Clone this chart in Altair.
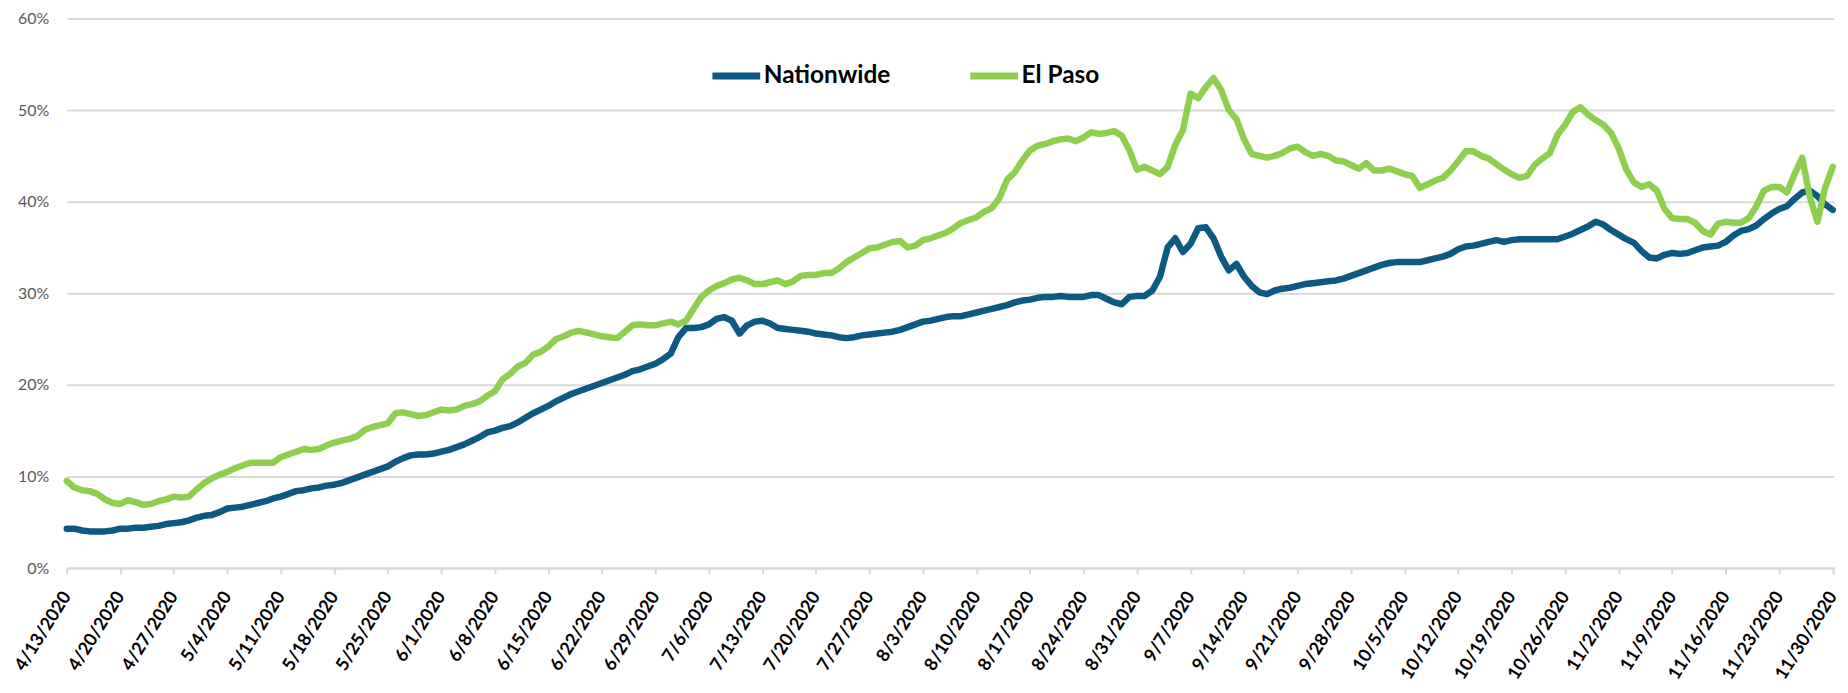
import altair as alt
import pandas as pd

# Daily dates 4/13/2020 .. 11/30/2020
dates = pd.date_range("2020-04-13", "2020-11-30", freq="D").strftime("%Y-%m-%d").tolist()

series_names = ["Nationwide", "El Paso"]
series_colors = ["#0C5A83", "#8FCF4F"]

# Nationwide (%), one value per day
nationwide = [
    4.3, 4.3, 4.1, 4.0, 4.0, 4.0, 4.1, 4.3, 4.3, 4.4, 4.4, 4.5, 4.6, 4.8, 4.9, 5.0, 5.2, 5.5, 5.7, 5.8,
    6.1, 6.5, 6.6, 6.7, 6.9, 7.1, 7.3, 7.6, 7.8, 8.1, 8.4, 8.5, 8.7, 8.8, 9.0, 9.1, 9.3,
    9.6, 9.9, 10.2, 10.5, 10.8, 11.1, 11.6, 12.0, 12.3, 12.4, 12.4, 12.5, 12.7, 12.9, 13.2, 13.5, 13.9,
    14.3, 14.8, 15.0, 15.3, 15.5, 15.9, 16.4, 16.9, 17.3, 17.7, 18.2, 18.6, 19.0, 19.3, 19.6, 19.9,
    20.2, 20.5, 20.8, 21.1, 21.5,
    21.7, 22.0, 22.3, 22.8, 23.4, 25.2, 26.2, 26.2, 26.3, 26.6, 27.2, 27.4, 27.0, 25.6, 26.5, 26.9,
    27.0, 26.7, 26.2, 26.1, 26.0, 25.9, 25.8, 25.6, 25.5, 25.4, 25.2, 25.1, 25.2, 25.4, 25.5, 25.6,
    25.7, 25.8, 26.0, 26.3, 26.6, 26.9,
    27.0, 27.2, 27.4, 27.5, 27.5, 27.7, 27.9, 28.1, 28.3, 28.5, 28.7, 29.0, 29.2, 29.3, 29.5,
    29.6, 29.6, 29.7, 29.6, 29.6, 29.6, 29.8, 29.8, 29.4, 29.0, 28.8, 29.6, 29.7, 29.7, 30.3,
    31.8, 35.0, 36.0, 34.5, 35.4, 37.1, 37.2, 36.0,
    34.0, 32.5, 33.2, 31.8, 30.8, 30.1, 29.9, 30.3, 30.5, 30.6, 30.8, 31.0, 31.1, 31.2, 31.3,
    31.4, 31.6, 31.9, 32.2, 32.5, 32.8, 33.1, 33.3, 33.4, 33.4, 33.4, 33.4, 33.6, 33.8, 34.0,
    34.3, 34.8, 35.1, 35.2, 35.4, 35.6, 35.8,
    35.6, 35.8, 35.9, 35.9, 35.9, 35.9, 35.9, 35.9, 36.2, 36.5, 36.9, 37.3, 37.8, 37.5, 36.9,
    36.4, 35.9, 35.5, 34.6, 33.9, 33.8, 34.2, 34.4, 34.3, 34.4, 34.7, 35.0, 35.1, 35.2, 35.6,
    36.3, 36.8, 37.0, 37.4, 38.1,
    38.7, 39.2, 39.5, 40.3, 41.0, 41.2, 40.6, 39.7, 39.1,
]

# El Paso (%), one value per day
el_paso = [
    9.5, 8.8, 8.5, 8.4, 8.1, 7.5, 7.1, 7.0, 7.4, 7.2, 6.9, 7.0, 7.3, 7.5, 7.8, 7.7, 7.8, 8.6, 9.3, 9.8,
    10.2, 10.5, 10.9, 11.2, 11.5, 11.5, 11.5, 11.5, 12.1, 12.4, 12.7, 13.0, 12.9, 13.0, 13.4, 13.7, 13.9,
    14.1, 14.4, 15.1, 15.4, 15.6, 15.8, 16.9, 17.0, 16.8, 16.6, 16.7, 17.0, 17.3, 17.2, 17.3, 17.7,
    17.9, 18.2, 18.8, 19.3, 20.6, 21.2, 22.0, 22.4, 23.3, 23.6, 24.2, 25.0, 25.3, 25.7, 25.9, 25.7,
    25.5, 25.3, 25.2, 25.1, 25.8, 26.5,
    26.6, 26.5, 26.5, 26.7, 26.9, 26.6, 27.0, 28.3, 29.6, 30.3, 30.8, 31.1, 31.5, 31.7, 31.4, 31.0,
    31.0, 31.2, 31.4, 31.0, 31.3, 31.9, 32.0, 32.0, 32.2, 32.2, 32.7, 33.4, 33.9, 34.4, 34.9, 35.0,
    35.3, 35.6, 35.7, 35.0, 35.2, 35.8,
    36.0, 36.3, 36.6, 37.1, 37.7, 38.0, 38.3, 38.9, 39.3, 40.4, 42.4, 43.2, 44.5, 45.6, 46.1,
    46.3, 46.6, 46.8, 46.9, 46.6, 47.0, 47.6, 47.4, 47.5, 47.7, 47.2, 45.6, 43.5, 43.8, 43.4,
    43.0, 43.8, 46.2, 47.8, 51.8, 51.3, 52.5, 53.5,
    52.2, 50.0, 49.0, 46.8, 45.2, 45.0, 44.8, 45.0, 45.3, 45.8, 46.0, 45.4, 45.0, 45.2, 45.0,
    44.5, 44.4, 44.0, 43.6, 44.2, 43.4, 43.4, 43.6, 43.3, 43.0, 42.8, 41.5, 41.9, 42.3, 42.6,
    43.4, 44.4, 45.5, 45.5, 45.0, 44.7, 44.1,
    43.5, 43.0, 42.6, 42.8, 44.0, 44.7, 45.3, 47.3, 48.4, 49.8, 50.3, 49.5, 48.9, 48.4, 47.5,
    45.8, 43.5, 42.1, 41.6, 41.9, 41.2, 39.2, 38.2, 38.1, 38.1, 37.7, 36.8, 36.4, 37.6, 37.8,
    37.7, 37.7, 38.2, 39.5, 41.2,
    41.6, 41.6, 41.0, 43.0, 44.8, 40.5, 37.8, 41.5, 43.8,
]

y_ticks = [0, 0.1, 0.2, 0.3, 0.4, 0.5, 0.6]


def dt(s, hours=0):
    y, m, d = (int(p) for p in s.split("-"))
    return alt.DateTime(year=y, month=m, date=d, hours=hours, utc=True)


tick_dates = [dt(s) for s in dates[::7]]

df = pd.DataFrame({
    "date": dates,
    "Nationwide": [v / 100 for v in nationwide],
    "El Paso": [v / 100 for v in el_paso],
})

FONT = "Lato"

x_enc = alt.X(
    "date:T",
    scale=alt.Scale(type="utc", domain=[dt(dates[0]), dt(dates[-1], hours=4)]),
    axis=alt.Axis(
        values=tick_dates,
        format="%-m/%-d/%Y",
        title=None,
        grid=False,
        domain=True,
        domainColor="#d9d9d9",
        domainWidth=2,
        ticks=True,
        tickColor="#d9d9d9",
        tickWidth=2,
        tickSize=6,
        labelAngle=-58,
        labelAlign="right",
        labelBaseline="middle",
        labelFont=FONT,
        labelFontSize=18,
        labelFontWeight="bold",
        labelColor="#000000",
        labelPadding=19,
        labelOverlap=False,
        labelFlush=False,
        labelBound=False,
    ),
)

y_enc = alt.Y(
    "value:Q",
    scale=alt.Scale(domain=[0, 0.6], nice=False),
    axis=alt.Axis(
        values=y_ticks,
        format=".0%",
        title=None,
        grid=True,
        gridColor="#d9d9d9",
        gridWidth=2,
        domain=False,
        ticks=False,
        labelFont=FONT,
        labelFontSize=16,
        labelColor="#595959",
        labelPadding=18,
    ),
)

color_enc = alt.Color(
    "series:N",
    scale=alt.Scale(domain=series_names, range=series_colors),
    legend=alt.Legend(
        title=None,
        orient="none",
        legendX=645,
        legendY=30,
        direction="horizontal",
        symbolType="stroke",
        symbolStrokeWidth=7,
        symbolSize=2304,
        labelFont=FONT,
        labelFontSize=24.5,
        labelFontWeight="bold",
        labelColor="#000000",
        labelOffset=0,
        columnPadding=65,
        labelLimit=300,
    ),
)

base = (
    alt.Chart(df)
    .transform_fold(series_names, as_=["series", "value"])
    .encode(x=x_enc, y=y_enc, color=color_enc)
)
line_kw = dict(strokeWidth=6.5, strokeJoin="round", strokeCap="round")

nat_line = base.transform_filter(alt.datum.series == series_names[0]).mark_line(**line_kw)
elp_line = base.transform_filter(alt.datum.series == series_names[1]).mark_line(**line_kw)

chart = (
    alt.layer(nat_line, elp_line)
    .properties(
        width=1775,
        height=552,
        autosize=alt.AutoSizeParams(type="none"),
        padding={"left": 59, "top": 9, "right": 6, "bottom": 122},
        background="white",
    )
    .configure_view(stroke=None)
)

chart.save("out.html", embed_options={"renderer": "svg", "actions": False})
